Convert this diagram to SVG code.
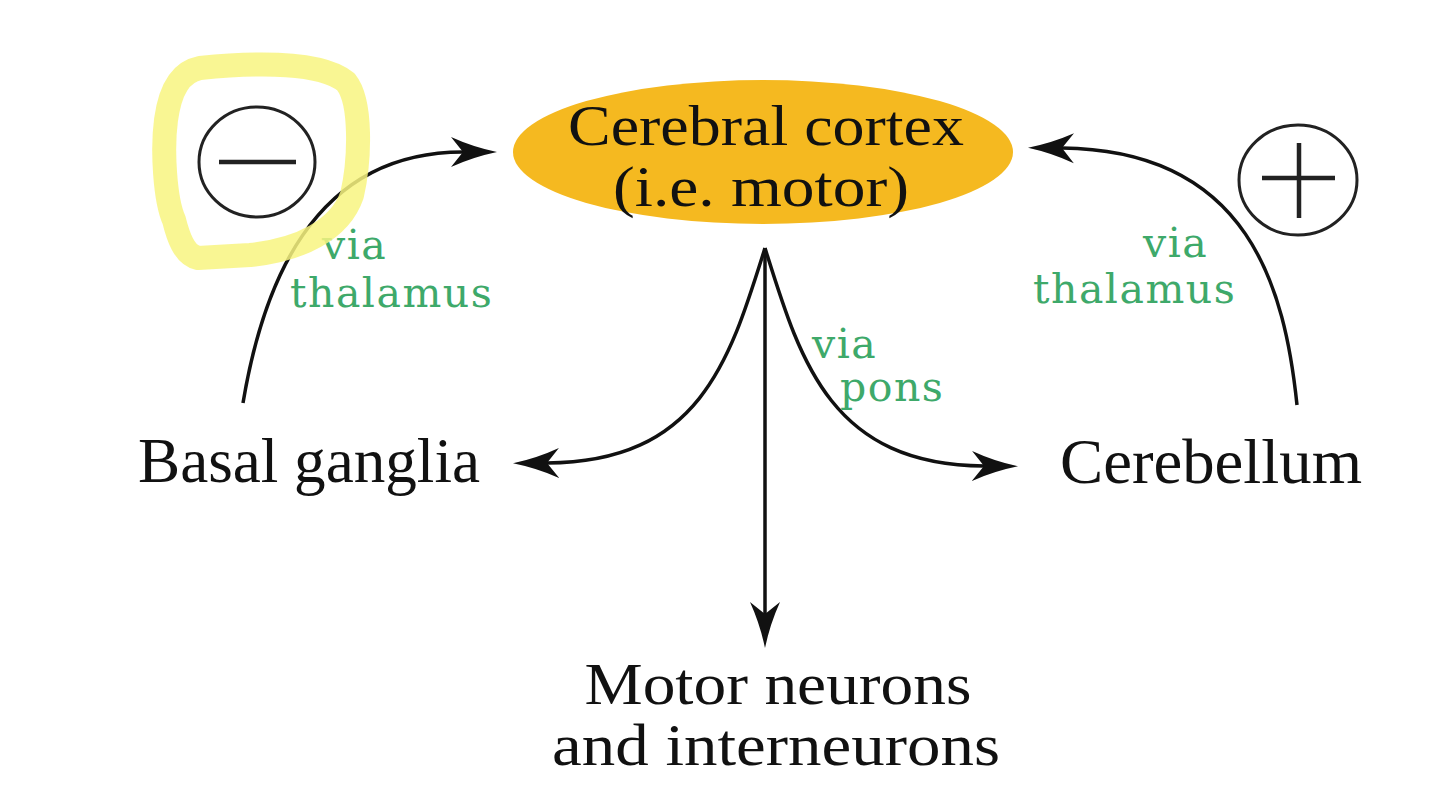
<svg xmlns="http://www.w3.org/2000/svg" width="1440" height="806" viewBox="0 0 1440 806">
  <style>
    .node { font-family: "Liberation Serif", "Times New Roman", serif; font-size: 64px; fill: #111; }
    .node2 { font-family: "Liberation Serif", "Times New Roman", serif; font-size: 60px; fill: #111; }
    .node3 { font-family: "Liberation Serif", "Times New Roman", serif; font-size: 57px; fill: #111; }
    .via { font-family: "DejaVu Serif", "Liberation Serif", serif; font-size: 41px; fill: #3ea96a; letter-spacing: 1.5px; }
    .conn { fill: none; stroke: #111; stroke-width: 3.5; }
    .sign { fill: none; stroke: #222; stroke-width: 3; }
    .bar { stroke: #222; stroke-width: 4.5; }
  </style>
  <defs>
    <marker id="arrow" markerUnits="userSpaceOnUse" markerWidth="48" markerHeight="34" refX="12" refY="17" orient="auto">
      <path d="M46,17 Q22,12 0,2 L12,17 L0,32 Q22,22 46,17 Z" fill="#111"/>
    </marker>
  </defs>
  <rect width="1440" height="806" fill="#ffffff"/>

  <g id="connectors">
    <path class="conn" d="M243,403 C262,290 310,152 463,152" marker-end="url(#arrow)"/>
    <path class="conn" d="M1297,405 C1285,290 1250,150 1062,148" marker-end="url(#arrow)"/>
    <path class="conn" d="M765,248 C730,360 700,462 547,463" marker-end="url(#arrow)"/>
    <path class="conn" d="M765,248 C800,360 830,465 984,466" marker-end="url(#arrow)"/>
    <path class="conn" d="M765,248 L765,614" marker-end="url(#arrow)"/>
  </g>

  <g id="cerebral-cortex">
    <ellipse cx="763" cy="152" rx="250" ry="72" fill="#F5B920"/>
    <text class="node3" x="766" y="145" text-anchor="middle" textLength="396" lengthAdjust="spacingAndGlyphs">Cerebral cortex</text>
    <text class="node3" x="761" y="206" text-anchor="middle" textLength="296" lengthAdjust="spacingAndGlyphs">(i.e. motor)</text>
  </g>

  <g id="basal-ganglia">
    <text class="node" x="309" y="482" text-anchor="middle" textLength="342" lengthAdjust="spacingAndGlyphs">Basal ganglia</text>
  </g>

  <g id="cerebellum">
    <text class="node" x="1211" y="483" text-anchor="middle" textLength="302" lengthAdjust="spacingAndGlyphs">Cerebellum</text>
  </g>

  <g id="motor-neurons">
    <text class="node2" x="778" y="704" text-anchor="middle" textLength="387" lengthAdjust="spacingAndGlyphs">Motor neurons</text>
    <text class="node2" x="776" y="765" text-anchor="middle" textLength="448" lengthAdjust="spacingAndGlyphs">and interneurons</text>
  </g>

  <g id="labels">
    <text class="via" x="322" y="259">via</text>
    <text class="via" x="290" y="307">thalamus</text>
    <text class="via" x="1143" y="257">via</text>
    <text class="via" x="1033" y="303">thalamus</text>
    <text class="via" x="812" y="358">via</text>
    <text class="via" x="840" y="401">pons</text>
  </g>

  <g id="minus-sign">
    <ellipse class="sign" cx="257" cy="162" rx="58" ry="55"/>
    <line class="bar" x1="219" y1="162" x2="296" y2="162"/>
  </g>

  <g id="plus-sign">
    <ellipse class="sign" cx="1298" cy="180" rx="59" ry="55"/>
    <line class="bar" x1="1262" y1="178" x2="1335" y2="178"/>
    <line class="bar" x1="1299" y1="143" x2="1299" y2="218"/>
  </g>

  <g id="highlight">
    <path d="M200,68 C260,62 322,62 346,82 C362,102 360,160 352,195 C340,230 300,250 250,255 L198,258 C184,255 178,236 174,220 C165,200 162,150 166,120 C170,90 180,72 200,68 Z" fill="none" stroke="#F8F580" stroke-width="24" stroke-linejoin="round" opacity="0.85"/>
  </g>
</svg>
